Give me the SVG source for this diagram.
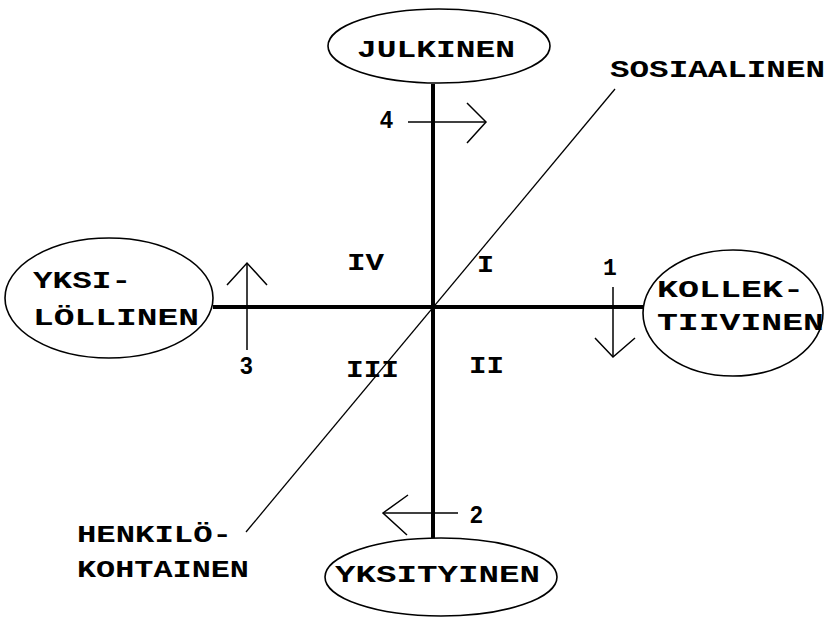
<svg xmlns="http://www.w3.org/2000/svg" width="824" height="618" viewBox="0 0 824 618">
<style>
.bg{fill:#fff}
.ell{fill:#fff;stroke:#000;stroke-width:1.6}
.axis{stroke:#000;stroke-width:4;fill:none}
.thin{stroke:#000;stroke-width:1.5;fill:none}
.lbl{font-family:"Liberation Mono","Courier New",monospace;font-weight:bold;font-size:23px;fill:#000}
.num{font-family:"Liberation Sans",Arial,sans-serif;font-weight:bold;font-size:23px;fill:#000}
</style>
<rect class="bg" x="0" y="0" width="824" height="618"/>
<g id="connectors">
<line class="axis" x1="433" y1="84" x2="433" y2="538"/>
<line class="axis" x1="213" y1="307" x2="643" y2="307"/>
<line class="thin" x1="246" y1="532" x2="615" y2="89" style="stroke-width:1.3"/>
<g id="arrow4"><line class="thin" x1="408" y1="122" x2="486" y2="122"/><polyline class="thin" points="467,103 486,122 467,143"/></g>
<g id="arrow3"><line class="thin" x1="247" y1="350" x2="247" y2="263"/><polyline class="thin" points="227,285 247,263 267,285"/></g>
<g id="arrow1"><line class="thin" x1="613" y1="287" x2="613" y2="357"/><polyline class="thin" points="595,338 613,357 635,338"/></g>
<g id="arrow2"><line class="thin" x1="458" y1="513" x2="383" y2="513"/><polyline class="thin" points="408,495 383,513 407,535"/></g>
</g>
<g id="julkinen"><ellipse class="ell" cx="439" cy="46" rx="111" ry="37"/><text class="lbl" x="357" y="57" textLength="158" lengthAdjust="spacingAndGlyphs">JULKINEN</text></g>
<g id="yksilollinen"><ellipse class="ell" cx="109" cy="298" rx="104" ry="60"/><text class="lbl" x="33" y="288" textLength="98" lengthAdjust="spacingAndGlyphs">YKSI-</text><text class="lbl" x="33" y="325" textLength="166" lengthAdjust="spacingAndGlyphs">LÖLLINEN</text></g>
<g id="kollektiivinen"><ellipse class="ell" cx="733" cy="313" rx="90" ry="63"/><text class="lbl" x="657" y="297" textLength="147" lengthAdjust="spacingAndGlyphs">KOLLEK-</text><text class="lbl" x="657" y="330" textLength="167" lengthAdjust="spacingAndGlyphs">TIIVINEN</text></g>
<g id="yksityinen"><ellipse class="ell" cx="441" cy="577" rx="116" ry="39"/><text class="lbl" x="335" y="582" textLength="205" lengthAdjust="spacingAndGlyphs">YKSITYINEN</text></g>
<g id="sosiaalinen"><text class="lbl" x="610" y="77" textLength="215" lengthAdjust="spacingAndGlyphs">SOSIAALINEN</text></g>
<g id="henkilokohtainen"><text class="lbl" x="77" y="542" textLength="155" lengthAdjust="spacingAndGlyphs">HENKILÖ-</text><text class="lbl" x="77" y="577" textLength="172" lengthAdjust="spacingAndGlyphs">KOHTAINEN</text></g>
<g id="quadrants">
<text class="lbl" x="347" y="270" textLength="37" lengthAdjust="spacingAndGlyphs">IV</text>
<text class="lbl" x="477" y="272" textLength="17" lengthAdjust="spacingAndGlyphs">I</text>
<text class="lbl" x="346" y="377" textLength="53" lengthAdjust="spacingAndGlyphs">III</text>
<text class="lbl" x="469" y="373" textLength="35" lengthAdjust="spacingAndGlyphs">II</text>
</g>
<g id="numbers">
<text class="num" x="380" y="128">4</text>
<text class="num" x="240" y="374">3</text>
<text class="lbl" x="603" y="275">1</text>
<text class="num" x="470" y="523">2</text>
</g>
</svg>
